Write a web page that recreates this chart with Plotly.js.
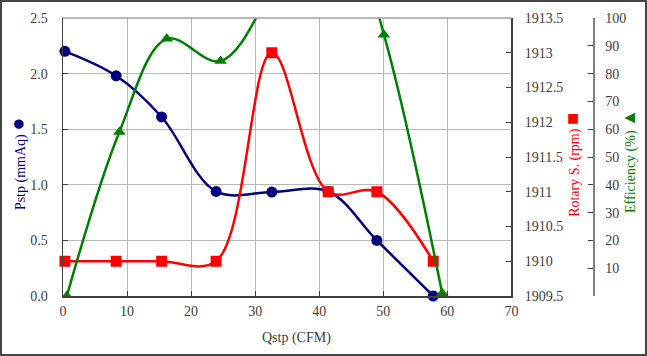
<!DOCTYPE html>
<html><head><meta charset="utf-8">
<script src="https://cdn.plot.ly/plotly-3.0.1.min.js"></script>
<style>
html,body{margin:0;padding:0;background:#fff;}
#wrap{position:relative;width:647px;height:356px;}
#chart{width:647px;height:356px;}
#frame{position:absolute;left:0;top:0;width:647px;height:356px;box-sizing:border-box;border:2px solid #454545;pointer-events:none;}
</style></head>
<body>
<div id="wrap"><div id="chart"></div><div id="frame"></div></div>
<script>
// Data
const qstp = [0.3, 8.3, 15.4, 23.9, 32.6, 41.4, 49.0, 57.8];
const pstp = [2.2, 1.98, 1.61, 0.94, 0.935, 0.94, 0.5, 0.0];
const rotary = [1910, 1910, 1910, 1910, 1913, 1911, 1911, 1910];
const qstpEff = [0.6, 8.8, 16.2, 24.6, 33.0, 41.8, 50.1, 59.2];
const efficiency = [0, 59, 92.5, 84.5, 112, 150, 94, 1];
const effTickVals = [0, 10, 20, 30, 40, 50, 60, 70, 80, 90, 100];
const effTickText = ['', '10', '20', '30', '40', '50', '60', '70', '80', '90', '100'];

const FAM = 'Liberation Serif';
function f(color, size) { return {family: FAM, size: size || 14, color: color || '#404040'}; }
const traces = [
  {x: qstp, y: pstp, yaxis: 'y', type: 'scatter', mode: 'lines+markers',
   line: {color: '#000080', width: 2.5, shape: 'spline', smoothing: 1},
   marker: {color: '#000080', size: 11, symbol: 'circle'}, cliponaxis: false},
  {x: qstp, y: rotary, yaxis: 'y2', type: 'scatter', mode: 'lines+markers',
   line: {color: '#ff0000', width: 2.5, shape: 'spline', smoothing: 1},
   marker: {color: '#ff0000', size: 11, symbol: 'square'}, cliponaxis: false},
  {x: qstpEff, y: efficiency, yaxis: 'y3', type: 'scatter', mode: 'lines+markers',
   line: {color: '#008000', width: 2.5, shape: 'spline', smoothing: 1},
   marker: {color: '#008000', size: 11, symbol: 'triangle-up'}}
];
const layout = {
  width: 647, height: 356,
  margin: {l: 63, r: 54, t: 18, b: 60},
  paper_bgcolor: '#fff', plot_bgcolor: '#fff',
  showlegend: false, font: f(),
  xaxis: {domain: [0, 0.846], range: [0, 70], dtick: 10, tick0: 0,
    showgrid: true, gridcolor: '#b8b8b8', gridwidth: 1, zeroline: false,
    showline: true, linecolor: '#404040', linewidth: 1.5, mirror: false,
    ticks: 'inside', ticklen: 5, tickcolor: '#404040', tickfont: f(), ticklabelstandoff: 2},
  yaxis: {range: [0, 2.5], dtick: 0.5, tick0: 0, tickformat: '.1f',
    showgrid: true, gridcolor: '#b8b8b8', gridwidth: 1, zeroline: false,
    showline: true, linecolor: '#404040', linewidth: 1.5,
    ticks: 'inside', ticklen: 5, tickcolor: '#404040', tickfont: f(), ticklabelstandoff: 11},
  yaxis2: {overlaying: 'y', side: 'right', anchor: 'x', range: [1909.5, 1913.5], dtick: 0.5, tick0: 1909.5,
    tickformat: '.1~f',
    showgrid: false, zeroline: false, showline: true, linecolor: '#404040', linewidth: 1.5,
    ticks: 'inside', ticklen: 5, tickcolor: '#404040', tickfont: f(), ticklabelstandoff: 9},
  yaxis3: {overlaying: 'y', side: 'right', anchor: 'free', position: 1, range: [0, 100],
    tickmode: 'array', tickvals: effTickVals, ticktext: effTickText,
    showgrid: false, zeroline: false, showline: true, linecolor: '#808080', linewidth: 1.5,
    ticks: 'inside', ticklen: 5, tickcolor: '#404040', tickfont: f(), ticklabelstandoff: 8},
  shapes: [
    {type: 'line', xref: 'paper', yref: 'paper', x0: 0, x1: 0.846, y0: 1, y1: 1, line: {color: '#a0a0a0', width: 1.5}}
  ],
  annotations: [
    {xref: 'paper', yref: 'paper', x: 0.44, y: -0.151, xanchor: 'center', yanchor: 'middle', showarrow: false,
     text: 'Qstp (CFM)', font: f('#404040')},
    {xref: 'paper', yref: 'paper', x: -0.0868, y: 0.478, xanchor: 'center', yanchor: 'middle', showarrow: false, textangle: -90,
     text: 'Pstp (mmAq) <span style="font-size:22px">●</span>', font: f('#000080')},
    {xref: 'paper', yref: 'paper', x: 0.96, y: 0.471, xanchor: 'center', yanchor: 'middle', showarrow: false, textangle: -90,
     text: 'Rotary S. (rpm) <span style="font-size:20px">■</span>', font: f('#ff0000')},
    {xref: 'paper', yref: 'paper', x: 1.068, y: 0.486, xanchor: 'center', yanchor: 'middle', showarrow: false, textangle: -90,
     text: 'Efficiency (%) <span style="font-size:18px">▲</span>', font: f('#008000')}
  ]
};
Plotly.newPlot('chart', traces, layout, {displayModeBar: false, staticPlot: true});
</script>
</body></html>
